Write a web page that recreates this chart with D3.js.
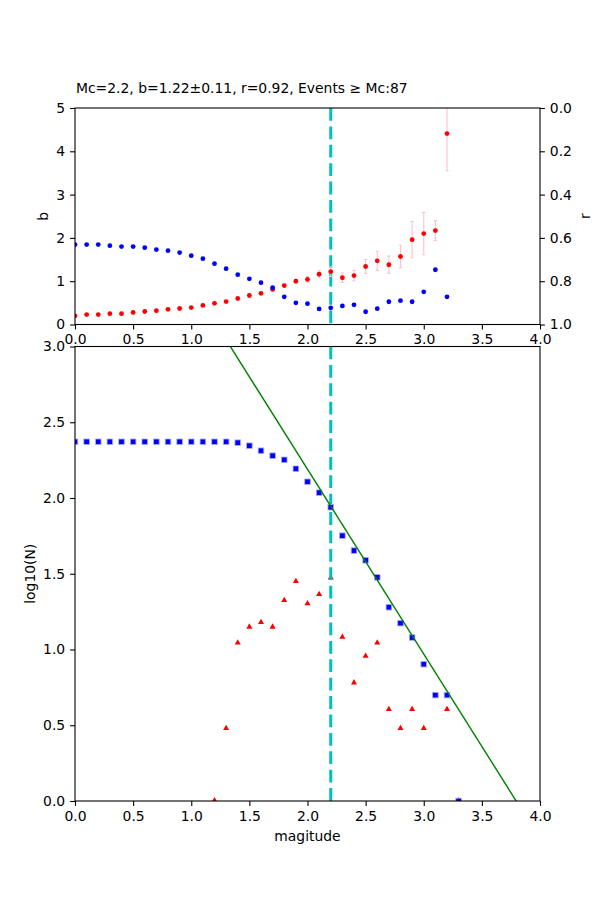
<!DOCTYPE html>
<html><head><meta charset="utf-8">
<script src="https://cdn.jsdelivr.net/npm/d3@7"></script>
<style>
body{margin:0;background:#fff}
text{font-family:"DejaVu Sans",sans-serif;font-size:13.9px;fill:#000}
</style>
</head><body>
<svg id="chart" width="600" height="900"></svg>
<script>
// ---------- data ----------
const mags = [0.0,0.1,0.2,0.3,0.4,0.5,0.6,0.7,0.8,0.9,1.0,1.1,1.2,1.3,1.4,1.5,1.6,1.7,1.8,1.9,2.0,2.1,2.2,2.3,2.4,2.5,2.6,2.7,2.8,2.9,3.0,3.1,3.2];
const bValues = [0.20,0.23,0.23,0.25,0.25,0.28,0.30,0.32,0.35,0.37,0.39,0.44,0.49,0.53,0.60,0.67,0.72,0.81,0.90,1.00,1.04,1.16,1.22,1.08,1.13,1.34,1.47,1.38,1.57,1.96,2.10,2.17,4.41];
const bErrors = [0.01,0.01,0.01,0.01,0.01,0.01,0.01,0.01,0.01,0.01,0.01,0.02,0.02,0.02,0.02,0.03,0.03,0.03,0.04,0.05,0.06,0.08,0.11,0.11,0.12,0.16,0.22,0.20,0.26,0.42,0.49,0.23,0.86];
const rValues = [0.631,0.631,0.631,0.636,0.640,0.640,0.645,0.654,0.659,0.668,0.682,0.696,0.719,0.742,0.770,0.789,0.807,0.830,0.872,0.900,0.904,0.928,0.923,0.914,0.909,0.941,0.927,0.895,0.890,0.895,0.849,0.747,0.872];

const cumMags = [0.0,0.1,0.2,0.3,0.4,0.5,0.6,0.7,0.8,0.9,1.0,1.1,1.2,1.3,1.4,1.5,1.6,1.7,1.8,1.9,2.0,2.1,2.2,2.3,2.4,2.5,2.6,2.7,2.8,2.9,3.0,3.1,3.2,3.3];
const cumLogN = [2.371,2.371,2.371,2.371,2.371,2.371,2.371,2.371,2.371,2.371,2.371,2.371,2.371,2.371,2.365,2.345,2.312,2.279,2.252,2.193,2.107,2.035,1.939,1.751,1.653,1.589,1.476,1.279,1.174,1.079,0.903,0.699,0.699,0.0];

const incMags = [1.2,1.3,1.4,1.5,1.6,1.7,1.8,1.9,2.0,2.1,2.2,2.3,2.4,2.5,2.6,2.7,2.8,2.9,3.0,3.2,3.3];
const incLogN = [0.0,0.477,1.041,1.146,1.176,1.146,1.322,1.447,1.301,1.362,1.47,1.079,0.778,0.954,1.041,0.602,0.477,0.602,0.477,0.602,0.0];

const mc = 2.2;
const aValue = 4.63, bValue = 1.22;
const xTicks = [0,0.5,1,1.5,2,2.5,3,3.5,4];
const bTicks = [0,1,2,3,4,5];
const rTicks = [0,0.2,0.4,0.6,0.8,1.0];
const logTicks = [0,0.5,1,1.5,2,2.5,3];
const titleText = "Mc=2.2, b=1.22±0.11, r=0.92, Events ≥ Mc:87";

// ---------- layout ----------
const svg = d3.select("#chart");
const L = 75, R = 540;
const top1 = 108, bot1 = 324.5;
const top2 = 346.5, bot2 = 801;

const x = d3.scaleLinear().domain([0,4]).range([L,R]);
const yB = d3.scaleLinear().domain([0,5]).range([bot1,top1]);
const yR = d3.scaleLinear().domain([0,1]).range([top1,bot1]);
const yN = d3.scaleLinear().domain([0,3]).range([bot2,top2]);

const defs = svg.append("defs");
defs.append("clipPath").attr("id","clip1").append("rect").attr("x",L).attr("y",top1).attr("width",R-L).attr("height",bot1-top1);
defs.append("clipPath").attr("id","clip2").append("rect").attr("x",L).attr("y",top2).attr("width",R-L).attr("height",bot2-top2);

const fmt1 = d3.format(".1f");
function styleAxis(g){
  g.select(".domain").remove();
  g.selectAll(".tick line").attr("stroke","#000").attr("stroke-width",1.1);
  g.selectAll(".tick text").style("font-size","13.9px").style("font-family","DejaVu Sans");
}

// ---------- top panel ----------
const p1 = svg.append("g").attr("clip-path","url(#clip1)");
p1.append("line").attr("x1",x(mc)).attr("x2",x(mc)).attr("y1",top1).attr("y2",bot1)
  .attr("stroke","#00bfbf").attr("stroke-width",3).attr("stroke-dasharray","12.8,5.6");

// error bars
const eb = p1.append("g").attr("stroke","pink").attr("stroke-width",1.1);
mags.forEach((m,i)=>{
  const x0 = x(m), ya = yB(bValues[i]-bErrors[i]), yb = yB(bValues[i]+bErrors[i]);
  eb.append("line").attr("x1",x0).attr("x2",x0).attr("y1",ya).attr("y2",yb);
  eb.append("line").attr("x1",x0-1.6).attr("x2",x0+1.6).attr("y1",ya).attr("y2",ya);
  eb.append("line").attr("x1",x0-1.6).attr("x2",x0+1.6).attr("y1",yb).attr("y2",yb);
});
p1.append("g").selectAll("circle").data(mags).join("circle")
  .attr("cx",d=>x(d)).attr("cy",(d,i)=>yB(bValues[i])).attr("r",2.4).attr("fill","#ff0000");
p1.append("g").selectAll("circle").data(mags).join("circle")
  .attr("cx",d=>x(d)).attr("cy",(d,i)=>yR(rValues[i])).attr("r",2.4).attr("fill","#0000ff");

// axes top
svg.append("g").attr("transform",`translate(0,${bot1})`)
  .call(d3.axisBottom(x).tickValues(xTicks).tickFormat(fmt1).tickSize(4.9).tickPadding(4.9)).call(styleAxis);
svg.append("g").attr("transform",`translate(${L},0)`)
  .call(d3.axisLeft(yB).tickValues(bTicks).tickFormat(d3.format("d")).tickSize(4.9).tickPadding(4.9)).call(styleAxis);
svg.append("g").attr("transform",`translate(${R},0)`)
  .call(d3.axisRight(yR).tickValues(rTicks).tickFormat(fmt1).tickSize(4.9).tickPadding(4.9)).call(styleAxis);
svg.append("rect").attr("x",L).attr("y",top1).attr("width",R-L).attr("height",bot1-top1)
  .attr("fill","none").attr("stroke","#000").attr("stroke-width",1.1);

svg.append("text").attr("x",L+1).attr("y",93).text(titleText);
svg.append("text").attr("transform",`translate(48,${(top1+bot1)/2}) rotate(-90)`).attr("text-anchor","middle").text("b");
svg.append("text").attr("transform",`translate(590,${(top1+bot1)/2}) rotate(-90)`).attr("text-anchor","middle").text("r");

// ---------- bottom panel ----------
const p2 = svg.append("g").attr("clip-path","url(#clip2)");
const tri = d3.symbol().type(d3.symbolTriangle).size(16);
p2.append("g").selectAll("path").data(incMags).join("path")
  .attr("d",tri).attr("transform",(d,i)=>`translate(${x(d)},${yN(incLogN[i])-0.5})`).attr("fill","#ff0000");
p2.append("line").attr("x1",x(mc)).attr("x2",x(mc)).attr("y1",top2).attr("y2",bot2)
  .attr("stroke","#00bfbf").attr("stroke-width",3).attr("stroke-dasharray","12.8,5.6");
const sq = 5.6;
p2.append("g").selectAll("rect").data(cumMags).join("rect")
  .attr("x",d=>x(d)-sq/2).attr("y",(d,i)=>yN(cumLogN[i])-sq/2).attr("width",sq).attr("height",sq)
  .attr("fill","#0000ff").attr("stroke","#b0b0ff").attr("stroke-width",0.8);
const fitM = [0,4];
p2.append("line").attr("x1",x(fitM[0])).attr("y1",yN(aValue-bValue*fitM[0]))
  .attr("x2",x(fitM[1])).attr("y2",yN(aValue-bValue*fitM[1]))
  .attr("stroke","#008000").attr("stroke-width",1.4);

svg.append("g").attr("transform",`translate(0,${bot2})`)
  .call(d3.axisBottom(x).tickValues(xTicks).tickFormat(fmt1).tickSize(4.9).tickPadding(4.9)).call(styleAxis);
svg.append("g").attr("transform",`translate(${L},0)`)
  .call(d3.axisLeft(yN).tickValues(logTicks).tickFormat(fmt1).tickSize(4.9).tickPadding(4.9)).call(styleAxis);
svg.append("rect").attr("x",L).attr("y",top2).attr("width",R-L).attr("height",bot2-top2)
  .attr("fill","none").attr("stroke","#000").attr("stroke-width",1.1);

svg.append("text").attr("x",(L+R)/2).attr("y",841).attr("text-anchor","middle").text("magitude");
svg.append("text").attr("transform",`translate(35,${(top2+bot2)/2}) rotate(-90)`).attr("text-anchor","middle").text("log10(N)");
</script>
</body></html>
